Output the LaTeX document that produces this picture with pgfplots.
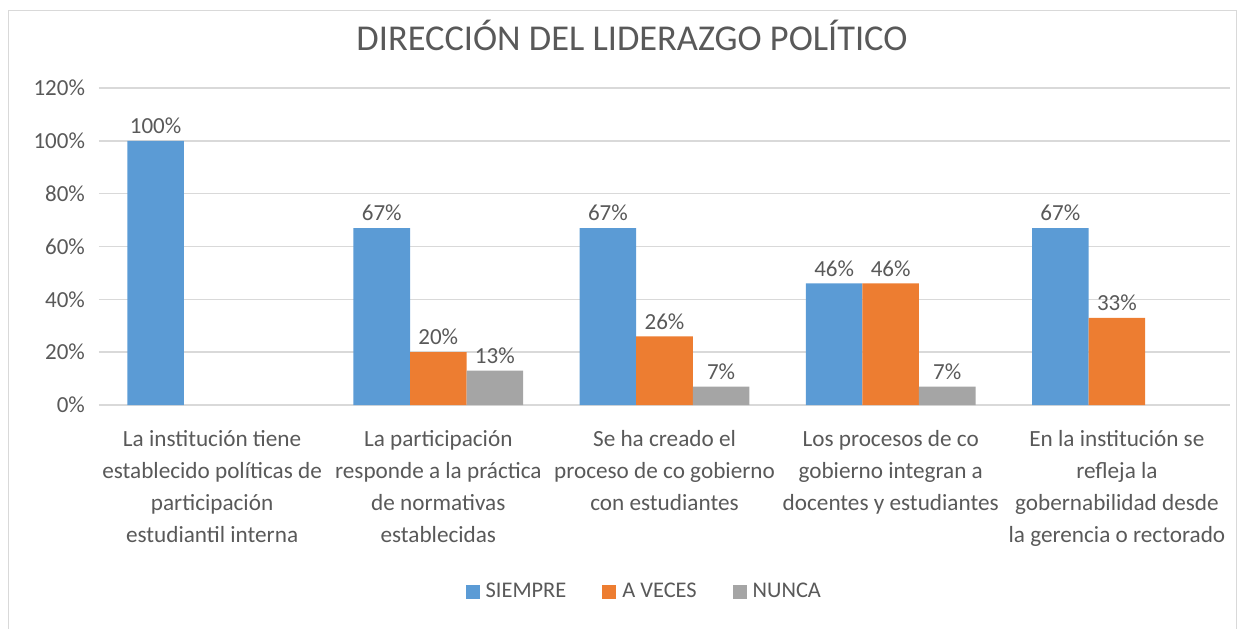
\documentclass[border=0pt]{standalone}
\usepackage{pgfplots}
\pgfplotsset{compat=1.18}
\usepackage{fontspec}
\setmainfont{Carlito}
\definecolor{cblue}{HTML}{5B9BD5}
\definecolor{corange}{HTML}{ED7D31}
\definecolor{cgray}{HTML}{A5A5A5}
\definecolor{txt}{HTML}{595959}
\definecolor{gridc}{HTML}{D9D9D9}
\begin{document}
\begin{tikzpicture}
	% picture = 1244x628 px at 0.5pt per px, origin at the axis' lower left corner
	\useasboundingbox (-49.5pt,-111.5pt) rectangle (572.5pt,202.5pt);
	\draw[gridc] (-45.5pt,-112pt) -- (-45.5pt,197.5pt) -- (568.5pt,197.5pt) -- (568.5pt,-112pt);
	\node[text=txt, font=\fontsize{18.2}{20}\selectfont] at (266.5pt,185pt) {DIRECCIÓN DEL LIDERAZGO POLÍTICO};
	\begin{axis}[
	at={(0pt,0pt)}, anchor=south west,
	scale only axis,
	width=565.5pt, height=158.5pt,
	ybar, bar width=0.25,
	xmin=-0.5, xmax=4.5,
	ymin=0, ymax=120,
	ytick={0,20,...,120},
	yticklabel={\pgfmathprintnumber{\tick}\%},
	/pgf/number format/assume math mode=true,
	xtick={0,...,4},
	xticklabels={
		{La institución tiene\\establecido políticas de\\participación\\estudiantil interna},
		{La participación\\responde a la práctica\\de normativas\\establecidas},
		{Se ha creado el\\proceso de co gobierno\\con estudiantes},
		{Los procesos de co\\gobierno integran a\\docentes y estudiantes},
		{En la institución se\\refleja la\\gobernabilidad desde\\la gerencia o rectorado}},
	xticklabel style={align=center, text=txt, font=\fontsize{11.6}{16}\selectfont, yshift=-9pt},
	yticklabel style={text=txt, font=\fontsize{11.5}{12}\selectfont, xshift=-3.5pt},
	major tick length=0pt,
	axis line style={draw=none},
	ymajorgrids,
	grid style={gridc, line width=0.8pt},
	nodes near coords={\pgfmathprintnumber{\pgfplotspointmeta}\%},
	every node near coord/.append style={text=txt, font=\fontsize{11.5}{12}\selectfont},
	legend style={at={(0.483,-0.59)}, anchor=center, draw=none,
		legend columns=3, font=\fontsize{11.2}{12}\selectfont, text=txt,
		/tikz/every odd column/.append style={column sep=1pt},
		/tikz/every even column/.append style={column sep=16pt}},
	legend image code/.code={\fill[#1] (0pt,-3.5pt) rectangle (7pt,3.5pt);},
	]
		\addplot[fill=cblue, draw=none, bar shift=-0.25] coordinates {
			(0,100) (1,67) (2,67) (3,46) (4,67)
		};
		\addplot[fill=corange, draw=none, bar shift=0] coordinates {
			(1,20) (2,26) (3,46) (4,33)
		};
		\addplot[fill=cgray, draw=none, bar shift=0.25] coordinates {
			(1,13) (2,7) (3,7)
		};
		\legend{SIEMPRE, A VECES, NUNCA}
	\end{axis}
\end{tikzpicture}
\end{document}
